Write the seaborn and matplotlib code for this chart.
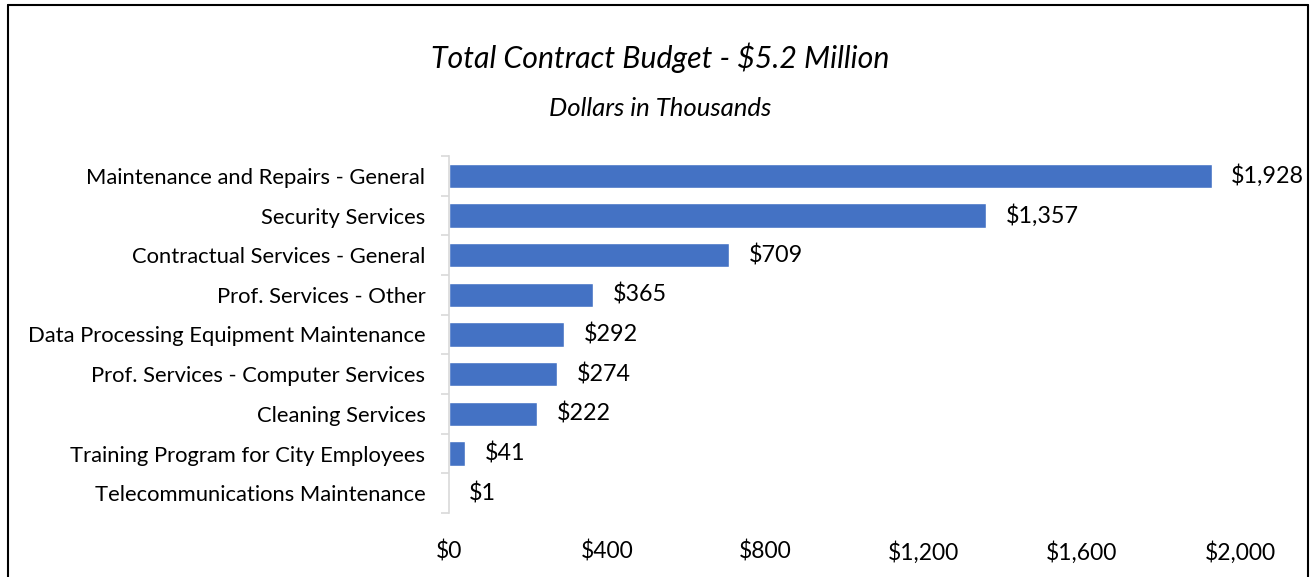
import matplotlib
matplotlib.use("Agg")
import matplotlib.pyplot as plt
import seaborn as sns
import pandas as pd
import numpy as np
from matplotlib.lines import Line2D

categories = ["Maintenance and Repairs - General", "Security Services",
              "Contractual Services - General", "Prof. Services - Other",
              "Data Processing Equipment Maintenance", "Prof. Services - Computer Services",
              "Cleaning Services", "Training Program for City Employees",
              "Telecommunications Maintenance"]
values = [1928, 1357, 709, 365, 292, 274, 222, 41, 1]
x_ticks = [0, 400, 800, 1200, 1600, 2000]

df = pd.DataFrame({"cat": categories, "val": values})

sns.set_theme(style="white")
plt.rcParams['font.family'] = ['Lato', 'DejaVu Sans']

fig = plt.figure(figsize=(13.15, 5.77), dpi=100)
ax = fig.add_axes([449/1315, 1-513/577, 791/1315, 357/577])
sns.barplot(data=df, x="val", y="cat", orient="h", color="#4472C4",
            saturation=1, width=0.62, ax=ax)
ax.set_xlim(0, 2000)
ax.set_ylim(8.5, -0.5)
ax.set_xticks(x_ticks)
ax.set_xticklabels([f"${v:,}" for v in x_ticks], fontsize=16.5, color="black")
ax.tick_params(axis="x", length=0, pad=20)
ax.set_xlabel("")
ax.set_ylabel("")
ax.tick_params(axis="y", which="major", length=0, pad=17, labelsize=15.8, labelcolor="black")
ax.set_yticks(np.arange(-0.5, 9.0, 1.0), minor=True)
ax.tick_params(axis="y", which="minor", left=True, length=6, color="#D9D9D9", width=1.2)
for s in ["top", "right", "bottom"]:
    ax.spines[s].set_visible(False)
ax.spines["left"].set_color("#D9D9D9")
ax.spines["left"].set_linewidth(1.2)

for i, v in enumerate(values):
    ax.text(v + 50, i, f"${v:,}", va="center", ha="left", fontsize=16.8, color="black")

fig.text(660/1315, 1-58/577, "Total Contract Budget - $5.2 Million", ha="center", va="center",
         fontsize=21.8, style="italic", color="black")
fig.text(660/1315, 1-108/577, "Dollars in Thousands", ha="center", va="center",
         fontsize=18.5, style="italic", color="black")

# outer frame
x0, x1, yt = 7.5/1315, 1307.5/1315, 1-4.5/577
for xs, ys in [([x0, x0], [0, yt]), ([x0, x1], [yt, yt]), ([x1, x1], [yt, 0])]:
    fig.add_artist(Line2D(xs, ys, transform=fig.transFigure, color="black", lw=1.5))

fig.savefig("out.png", dpi=100)
